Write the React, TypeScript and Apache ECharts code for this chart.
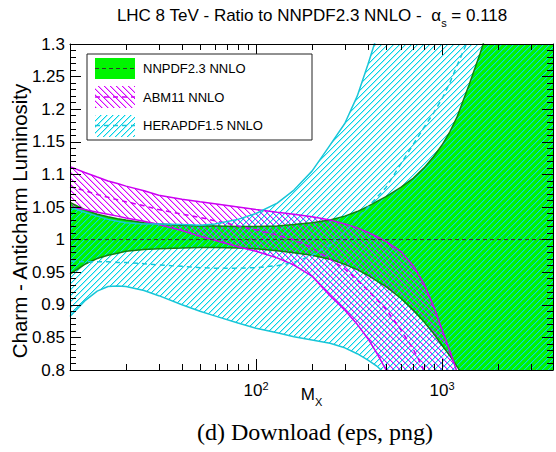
import React, { useEffect, useRef } from 'react';
import * as echarts from 'echarts';

// ---------- data ----------
const MASS = [10, 12, 14, 16, 18, 20, 25, 30, 40, 50, 60, 80, 100, 130, 160, 200, 250, 300, 350, 400, 450, 500, 600, 700, 800, 900, 1000, 1100, 1200, 1400, 1600, 1800, 2000, 2500, 3000, 4000];

const NN_UP = [1.057, 1.046, 1.039, 1.035, 1.032, 1.030, 1.026, 1.024, 1.022, 1.021, 1.021, 1.020, 1.020, 1.021, 1.023, 1.026, 1.030, 1.036, 1.043, 1.051, 1.059, 1.066, 1.080, 1.094, 1.110, 1.127, 1.145, 1.165, 1.187, 1.238, 1.285, 1.33, 1.38, 1.50, 1.62, 1.85];
const NN_C = [1, 1, 1, 1, 1, 1, 1, 1, 1, 1, 1, 1, 1, 1, 1, 1, 1, 1, 1, 1, 1, 1, 1, 1, 1, 1, 1, 1, 1, 1, 1, 1, 1, 1, 1, 1];
const NN_LO = [0.947, 0.962, 0.971, 0.976, 0.979, 0.982, 0.985, 0.986, 0.987, 0.988, 0.988, 0.987, 0.986, 0.983, 0.980, 0.976, 0.970, 0.962, 0.954, 0.945, 0.936, 0.928, 0.910, 0.892, 0.874, 0.856, 0.838, 0.822, 0.806, 0.778, 0.75, 0.72, 0.69, 0.62, 0.55, 0.40];

const ABM_UP = [1.112, 1.103, 1.096, 1.090, 1.086, 1.082, 1.075, 1.068, 1.062, 1.058, 1.055, 1.050, 1.046, 1.042, 1.039, 1.035, 1.030, 1.024, 1.018, 1.011, 1.004, 0.997, 0.982, 0.960, 0.932, 0.898, 0.862, 0.830, 0.798, 0.73, 0.66, 0.60, 0.55, 0.45, 0.35, 0.2];
const ABM_C = [1.081, 1.075, 1.069, 1.065, 1.061, 1.058, 1.052, 1.046, 1.039, 1.034, 1.029, 1.021, 1.015, 1.007, 0.999, 0.988, 0.970, 0.955, 0.938, 0.922, 0.907, 0.893, 0.862, 0.832, 0.800, 0.77, 0.74, 0.71, 0.68, 0.62, 0.56, 0.50, 0.45, 0.35, 0.27, 0.15];
const ABM_LO = [1.050, 1.046, 1.042, 1.039, 1.036, 1.033, 1.028, 1.023, 1.014, 1.005, 0.999, 0.989, 0.982, 0.972, 0.961, 0.944, 0.914, 0.892, 0.870, 0.848, 0.824, 0.800, 0.755, 0.71, 0.67, 0.63, 0.59, 0.56, 0.53, 0.47, 0.42, 0.37, 0.33, 0.25, 0.18, 0.05];

const HP_UP = [1.050, 1.042, 1.036, 1.031, 1.028, 1.026, 1.024, 1.024, 1.023, 1.022, 1.024, 1.031, 1.040, 1.056, 1.076, 1.105, 1.145, 1.178, 1.220, 1.269, 1.315, 1.37, 1.45, 1.54, 1.62, 1.70, 1.78, 1.85, 1.92, 2.05, 2.18, 2.3, 2.4, 2.6, 2.8, 3.1];
const HP_C = [0.967, 0.966, 0.966, 0.966, 0.965, 0.965, 0.963, 0.961, 0.959, 0.957, 0.956, 0.956, 0.957, 0.960, 0.965, 0.976, 0.992, 1.012, 1.032, 1.050, 1.066, 1.080, 1.116, 1.146, 1.172, 1.194, 1.216, 1.240, 1.266, 1.31, 1.36, 1.40, 1.44, 1.53, 1.62, 1.78];
const HP_LO = [0.882, 0.906, 0.921, 0.928, 0.929, 0.928, 0.922, 0.914, 0.900, 0.890, 0.883, 0.872, 0.864, 0.857, 0.851, 0.846, 0.841, 0.834, 0.825, 0.815, 0.805, 0.793, 0.77, 0.74, 0.71, 0.68, 0.65, 0.62, 0.59, 0.53, 0.48, 0.43, 0.39, 0.30, 0.22, 0.10];

const X_MIN = 10;
const X_MAX = 3950;
const X_LABELED = [100, 1000];
const X_MAJOR_TICKS = [100, 1000];
const X_MINOR_TICKS = [20, 30, 40, 50, 60, 70, 80, 90, 200, 300, 400, 500, 600, 700, 800, 900, 2000, 3000];
const Y_MIN = 0.8;
const Y_MAX = 1.3;
const Y_STEP = 0.05;

const LEGEND_NAMES = ['NNPDF2.3 NNLO', 'ABM11 NNLO', 'HERAPDF1.5 NNLO'];
const TITLE_MAIN = 'LHC 8 TeV - Ratio to NNPDF2.3 NNLO -  α';
const TITLE_SUB = 's';
const TITLE_END = ' = 0.118';
const Y_TITLE = 'Charm - Anticharm Luminosity';
const CAPTION = '(d) Download (eps, png)';

// ---------- styles ----------
const SANS = 'Liberation Sans, Arial, Helvetica, sans-serif';
const SERIF = 'Liberation Serif, DejaVu Serif, serif';
const GREEN = '#00f500';
const DARK_GREEN = '#108010';
const MAGENTA = '#cc00f2';
const CYAN = '#18c6d8';
const MAG_RGB: [number, number, number] = [214, 0, 255];
const CYAN_RGB: [number, number, number] = [0, 212, 232];

function hatch(rgb: [number, number, number], rising: boolean) {
  const s = 6;
  const c = document.createElement('canvas');
  c.width = s;
  c.height = s;
  const ctx = c.getContext('2d')!;
  const img = ctx.createImageData(s, s);
  for (let y = 0; y < s; y++) {
    for (let x = 0; x < s; x++) {
      const k = rising ? (x + y) % s : (((x - y) % s) + s) % s;
      const main = rising ? s - 1 : 0;
      const side = rising ? 0 : 1;
      const a = k === main ? 255 : k === side ? 90 : 0;
      const o = (y * s + x) * 4;
      img.data[o] = rgb[0];
      img.data[o + 1] = rgb[1];
      img.data[o + 2] = rgb[2];
      img.data[o + 3] = a;
    }
  }
  ctx.putImageData(img, 0, 0);
  return { image: c, repeat: 'repeat', imageWidth: s, imageHeight: s } as any;
}

function bandSeries(lo: number[], up: number[], fill: any) {
  return {
    type: 'custom',
    coordinateSystem: 'cartesian2d',
    clip: true,
    silent: true,
    data: [[MASS[0], lo[0]]],
    renderItem: (_params: any, api: any) => {
      const pts: number[][] = [];
      for (let i = 0; i < MASS.length; i++) pts.push(api.coord([MASS[i], up[i]]));
      for (let i = MASS.length - 1; i >= 0; i--) pts.push(api.coord([MASS[i], lo[i]]));
      return { type: 'polygon', shape: { points: pts }, style: { fill, stroke: null } };
    },
  };
}

function lineSeries(vals: number[], color: string, width: number, dash?: number[]) {
  return {
    type: 'line',
    data: MASS.map((m, i) => [m, vals[i]]),
    showSymbol: false,
    symbol: 'none',
    clip: true,
    silent: true,
    lineStyle: { color, width, type: dash ? dash : 'solid' },
  };
}

function tickSeries(values: number[], len: number) {
  return {
    type: 'custom',
    coordinateSystem: 'cartesian2d',
    clip: false,
    silent: true,
    z: 10,
    data: values.map((v) => [v, 1]),
    renderItem: (params: any, api: any) => {
      const cs = params.coordSys;
      const x = Math.round(api.coord([api.value(0), 1])[0]) + 0.5;
      const b = cs.y + cs.height;
      return {
        type: 'group',
        children: [
          { type: 'line', shape: { x1: x, y1: b, x2: x, y2: b - len }, style: { stroke: '#000', lineWidth: 1 } },
          { type: 'line', shape: { x1: x, y1: cs.y, x2: x, y2: cs.y + len }, style: { stroke: '#000', lineWidth: 1 } },
        ],
      };
    },
  };
}

export default function App() {
  const ref = useRef<HTMLDivElement>(null);
  useEffect(() => {
    const chart = echarts.init(ref.current!, null, { renderer: 'svg' });
    const magHatch = hatch(MAG_RGB, false);
    const cyanHatch = hatch(CYAN_RGB, true);

    const xLabelFmt = (v: number) => {
      const l = Math.log10(v);
      const e = Math.round(l);
      if (Math.abs(l - e) < 1e-6 && X_LABELED.some((t) => Math.abs(Math.log10(t) - e) < 1e-6)) {
        return `{b|10}{s|${e}}`;
      }
      return '';
    };

    const yAxisBase = {
      type: 'value',
      min: Y_MIN,
      max: Y_MAX,
      interval: Y_STEP,
      z: 10,
      axisLine: { show: true, onZero: false, lineStyle: { color: '#000', width: 1 } },
      axisTick: { show: true, inside: true, length: 11, lineStyle: { color: '#000' } },
      minorTick: { show: true, splitNumber: 5, length: 6, lineStyle: { color: '#000' } },
      splitLine: { show: false },
      minorSplitLine: { show: false },
    };

    const option: any = {
      animation: false,
      backgroundColor: '#fff',
      grid: { left: 70, top: 44, width: 483, height: 326, containLabel: false, outerBoundsMode: 'none' },
      xAxis: [
        {
          type: 'log',
          logBase: 10,
          min: X_MIN,
          max: X_MAX,
          position: 'bottom',
          z: 10,
          axisLine: { show: true, onZero: false, lineStyle: { color: '#000', width: 1 } },
          axisTick: { show: false },
          splitLine: { show: false },
          axisLabel: {
            margin: 10,
            formatter: xLabelFmt,
            rich: {
              b: { fontSize: 17, fontFamily: SANS, color: '#000', lineHeight: 20 },
              s: { fontSize: 11, fontFamily: SANS, color: '#000', verticalAlign: 'top', lineHeight: 12 },
            },
          },
          name: '{m|M}{x|X}',
          nameLocation: 'middle',
          nameGap: 14,
          nameMoveOverlap: false,
          nameTextStyle: {
            rich: {
              m: { fontSize: 17, fontFamily: SANS, color: '#000', lineHeight: 20 },
              x: { fontSize: 11, fontFamily: SANS, color: '#000', verticalAlign: 'bottom', lineHeight: 12, padding: [0, 0, -3, 0] },
            },
          },
        },
        {
          type: 'log',
          logBase: 10,
          min: X_MIN,
          max: X_MAX,
          position: 'top',
          z: 10,
          axisLine: { show: true, onZero: false, lineStyle: { color: '#000', width: 1 } },
          axisTick: { show: false },
          axisLabel: { show: false },
          splitLine: { show: false },
        },
      ],
      yAxis: [
        {
          ...yAxisBase,
          position: 'left',
          axisLabel: { margin: 5, fontSize: 17, fontFamily: SANS, color: '#000' },
        },
        {
          ...yAxisBase,
          position: 'right',
          axisLabel: { show: false },
        },
      ],
      series: [
        bandSeries(NN_LO, NN_UP, GREEN),
        lineSeries(NN_LO, DARK_GREEN, 1.5),
        lineSeries(NN_UP, DARK_GREEN, 1.5),
        bandSeries(ABM_LO, ABM_UP, magHatch),
        lineSeries(ABM_LO, MAGENTA, 1.5),
        lineSeries(ABM_UP, MAGENTA, 1.5),
        lineSeries(ABM_C, MAGENTA, 1.5, [5, 4]),
        bandSeries(HP_LO, HP_UP, cyanHatch),
        lineSeries(HP_LO, CYAN, 1.5),
        lineSeries(HP_UP, CYAN, 1.5),
        lineSeries(HP_C, CYAN, 1.5, [5, 4]),
        lineSeries(NN_C, '#333', 1, [4, 3]),
        tickSeries(X_MAJOR_TICKS, 11),
        tickSeries(X_MINOR_TICKS, 6),
      ],
      graphic: [
        {
          type: 'text',
          x: 312,
          y: 15,
          style: {
            text: `{t|${TITLE_MAIN}}{s|${TITLE_SUB}}{t|${TITLE_END}}`,
            rich: {
              t: { fontSize: 17, fontFamily: SANS, fill: '#000', lineHeight: 20 },
              s: { fontSize: 11, fontFamily: SANS, fill: '#000', verticalAlign: 'bottom', lineHeight: 12, padding: [0, 0, -3, 0] },
            },
            align: 'center',
            verticalAlign: 'middle',
            textAlign: 'center',
            textVerticalAlign: 'middle',
          },
        },
        {
          type: 'text',
          x: 19,
          y: 221,
          rotation: Math.PI / 2,
          style: {
            text: Y_TITLE,
            fontSize: 20.5,
            fontFamily: SANS,
            fill: '#000',
            align: 'center',
            verticalAlign: 'middle',
            textAlign: 'center',
            textVerticalAlign: 'middle',
          },
        },
        {
          type: 'text',
          x: 315,
          y: 432,
          style: {
            text: CAPTION,
            fontSize: 24,
            fontFamily: SERIF,
            fill: '#000',
            align: 'center',
            verticalAlign: 'middle',
            textAlign: 'center',
            textVerticalAlign: 'middle',
          },
        },
        // legend
        { type: 'rect', z: 20, shape: { x: 87, y: 54, width: 225, height: 86 }, style: { fill: '#fff', stroke: '#222', lineWidth: 1 } },
        { type: 'rect', z: 21, shape: { x: 95, y: 58, width: 40, height: 21 }, style: { fill: GREEN, stroke: null } },
        { type: 'line', z: 22, shape: { x1: 95, y1: 68.5, x2: 135, y2: 68.5 }, style: { stroke: '#333', lineWidth: 1, lineDash: [4, 3] } },
        { type: 'rect', z: 21, shape: { x: 95, y: 86, width: 40, height: 22 }, style: { fill: magHatch, stroke: null } },
        { type: 'line', z: 22, shape: { x1: 95, y1: 97, x2: 135, y2: 97 }, style: { stroke: MAGENTA, lineWidth: 1.5, lineDash: [5, 4] } },
        { type: 'rect', z: 21, shape: { x: 95, y: 115, width: 40, height: 22 }, style: { fill: cyanHatch, stroke: null } },
        { type: 'line', z: 22, shape: { x1: 95, y1: 125.5, x2: 135, y2: 125.5 }, style: { stroke: CYAN, lineWidth: 1.5, lineDash: [5, 4] } },
        ...LEGEND_NAMES.map((name, i) => ({
          type: 'text',
          z: 22,
          x: 143,
          y: [68.5, 97, 125.5][i],
          style: {
            text: name,
            fontSize: 13,
            fontFamily: SANS,
            fill: '#000',
            align: 'left',
            verticalAlign: 'middle',
            textAlign: 'left',
            textVerticalAlign: 'middle',
          },
        })),
      ],
    };
    chart.setOption(option);
    return () => chart.dispose();
  }, []);
  return (
    <div
      ref={ref}
      style={{ position: 'fixed', left: 0, top: 0, width: 556, height: 452, background: '#fff' }}
    />
  );
}
